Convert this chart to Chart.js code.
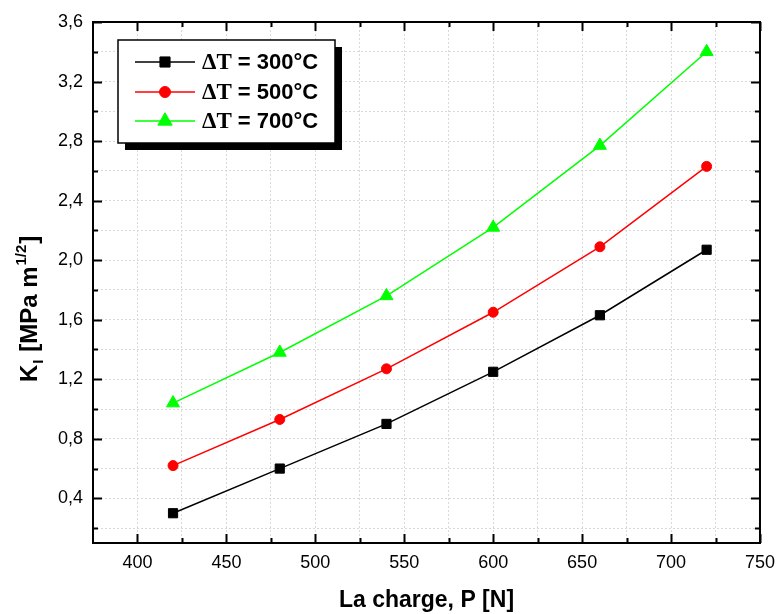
<!DOCTYPE html>
<html>
<head>
<meta charset="utf-8">
<script src="https://cdn.jsdelivr.net/npm/chart.js@4.4.1/dist/chart.umd.min.js"></script>
<style>
  html, body { margin: 0; padding: 0; background: #ffffff; }
  #wrap { width: 784px; height: 614px; }
</style>
</head>
<body>
<div id="wrap"><canvas id="c" width="784" height="614"></canvas></div>
<script>
// Load P [N] and stress intensity factor K_I [MPa m^1/2] for three temperature differences
const loads = [420, 480, 540, 600, 660, 720];
const k300 = [0.30, 0.60, 0.90, 1.25, 1.63, 2.07];
const k500 = [0.62, 0.93, 1.27, 1.65, 2.09, 2.63];
const k700 = [1.04, 1.38, 1.76, 2.22, 2.77, 3.40];
const seriesLabels = ['ΔT = 300°C', 'ΔT = 500°C', 'ΔT = 700°C'];

// Axis tick positions (major + minor)
const xTickValues = [400, 425, 450, 475, 500, 525, 550, 575, 600, 625, 650, 675, 700, 725, 750];
const yTickValues = [0.2, 0.4, 0.6, 0.8, 1.0, 1.2, 1.4, 1.6, 1.8, 2.0, 2.2, 2.4, 2.6, 2.8, 3.0, 3.2, 3.4, 3.6];

const SANS = "'Liberation Sans', Arial, sans-serif";
const SERIF = "'Liberation Serif', 'Times New Roman', serif";

const isMajorX = v => Math.round(v) % 50 === 0;
const isMajorY = v => Math.round(v * 10) % 4 === 0;

const toPoints = ys => loads.map((x, i) => ({ x: x, y: ys[i] }));

const seriesStyles = [
  { color: '#000000', pointStyle: 'rect', radius: 6.5 },
  { color: '#ff0000', pointStyle: 'circle', radius: 5 },
  { color: '#00ff00', pointStyle: 'triangle', radius: 7.5 }
];

const datasets = [k300, k500, k700].map((ys, i) => ({
  label: seriesLabels[i],
  data: toPoints(ys),
  borderColor: seriesStyles[i].color,
  backgroundColor: seriesStyles[i].color,
  borderWidth: 1.5,
  pointStyle: seriesStyles[i].pointStyle,
  pointRadius: seriesStyles[i].radius,
  pointBorderWidth: 1,
  pointBackgroundColor: seriesStyles[i].color,
  pointBorderColor: seriesStyles[i].color,
  tension: 0,
  fill: false
}));

// Boxed frame with inward tick marks on all four sides
const framePlugin = {
  id: 'frame',
  afterDatasetsDraw(chart) {
    const { ctx, chartArea: a, scales } = chart;
    ctx.save();
    ctx.strokeStyle = '#000';
    ctx.lineWidth = 2;
    ctx.lineCap = 'butt';
    ctx.beginPath();
    xTickValues.forEach(v => {
      const px = Math.round(scales.x.getPixelForValue(v)) + 0.5;
      const len = isMajorX(v) ? 9 : 5;
      ctx.moveTo(px, a.bottom); ctx.lineTo(px, a.bottom - len);
      ctx.moveTo(px, a.top); ctx.lineTo(px, a.top + len);
    });
    yTickValues.forEach(v => {
      const py = Math.round(scales.y.getPixelForValue(v)) + 0.5;
      const len = isMajorY(v) ? 9 : 5;
      ctx.moveTo(a.left, py); ctx.lineTo(a.left + len, py);
      ctx.moveTo(a.right, py); ctx.lineTo(a.right - len, py);
    });
    ctx.stroke();
    ctx.strokeRect(a.left, a.top, a.right - a.left, a.bottom - a.top);
    ctx.restore();
  }
};

function drawMarker(ctx, style, x, y, scale) {
  const r = style.radius * (scale || 1);
  ctx.fillStyle = style.color;
  ctx.strokeStyle = style.color;
  ctx.lineWidth = 1;
  if (Chart.helpers && Chart.helpers.drawPoint) {
    Chart.helpers.drawPoint(ctx, { pointStyle: style.pointStyle, rotation: 0, radius: r, borderWidth: 1 }, x, y);
    return;
  }
  ctx.beginPath();
  if (style.pointStyle === 'rect') {
    const s = Math.SQRT1_2 * r;
    ctx.rect(x - s, y - s, 2 * s, 2 * s);
  } else if (style.pointStyle === 'circle') {
    ctx.arc(x, y, r, 0, Math.PI * 2);
  } else {
    ctx.moveTo(x, y - r);
    ctx.lineTo(x + r * Math.sin(2 * Math.PI / 3), y - r * Math.cos(2 * Math.PI / 3));
    ctx.lineTo(x + r * Math.sin(4 * Math.PI / 3), y - r * Math.cos(4 * Math.PI / 3));
    ctx.closePath();
  }
  ctx.fill();
  ctx.stroke();
}

// Legend box with drop shadow, and the rotated y-axis title with sub/superscripts
const annotationsPlugin = {
  id: 'annotations',
  afterDraw(chart) {
    const ctx = chart.ctx;
    ctx.save();

    // legend
    const bx = 118, by = 40, bw = 217, bh = 103, sh = 7;
    ctx.fillStyle = '#000';
    ctx.fillRect(bx + sh, by + sh, bw, bh);
    ctx.fillStyle = '#fff';
    ctx.fillRect(bx, by, bw, bh);
    ctx.strokeStyle = '#000';
    ctx.lineWidth = 1.5;
    ctx.strokeRect(bx, by, bw, bh);

    const rows = [62, 92, 121];
    chart.data.datasets.forEach((ds, i) => {
      const y = rows[i];
      const st = seriesStyles[i];
      ctx.strokeStyle = st.color;
      ctx.lineWidth = 1.5;
      ctx.beginPath();
      ctx.moveTo(135, y); ctx.lineTo(195, y);
      ctx.stroke();
      drawMarker(ctx, st, 165, y, 1.1);

      const parts = ds.label.split(' = ');
      ctx.fillStyle = '#000';
      ctx.textBaseline = 'middle';
      ctx.textAlign = 'left';
      ctx.font = 'bold 23px ' + SERIF;
      let x = 202;
      ctx.fillText(parts[0], x, y + 1);
      x += ctx.measureText(parts[0]).width;
      ctx.font = 'bold 22px ' + SANS;
      ctx.fillText(' = ' + parts[1], x, y + 1);
    });

    // y-axis title: K_I [MPa m^1/2]
    ctx.translate(37, 382);
    ctx.rotate(-Math.PI / 2);
    ctx.fillStyle = '#000';
    ctx.textBaseline = 'alphabetic';
    ctx.textAlign = 'left';
    const big = 'bold 24px ' + SANS;
    const small = 'bold 15px ' + SANS;
    let tx = 0;
    const put = (txt, font, dy, gap) => {
      ctx.font = font;
      ctx.fillText(txt, tx, dy);
      tx += ctx.measureText(txt).width + (gap || 0);
    };
    put('K', big, 0, 1);
    put('I', small, 6, 1);
    put(' [MPa m', big, 0, 1);
    put('1/2', small, -11, 1);
    put(']', big, 0);

    ctx.restore();
  }
};

new Chart(document.getElementById('c'), {
  type: 'line',
  data: { datasets: datasets },
  options: {
    responsive: false,
    animation: false,
    devicePixelRatio: 1,
    layout: { padding: { left: 0, right: 18, top: 22, bottom: 0 } },
    plugins: {
      legend: { display: false },
      tooltip: { enabled: false },
      title: { display: false }
    },
    scales: {
      x: {
        type: 'linear',
        min: 375,
        max: 750,
        afterBuildTicks: s => { s.ticks = xTickValues.map(v => ({ value: v })); },
        afterFit: s => { s.height = 71; },
        ticks: {
          autoSkip: false,
          maxRotation: 0,
          padding: 9,
          color: '#000',
          font: { family: SANS, size: 18 },
          callback: v => (isMajorX(v) ? String(v) : '')
        },
        grid: { color: '#d9d9d9', lineWidth: 1, drawTicks: false },
        border: { display: false, dash: [2, 2] },
        title: {
          display: true,
          text: 'La charge, P [N]',
          color: '#000',
          font: { family: SANS, size: 23, weight: 'bold' },
          padding: { top: 0, bottom: 0 }
        }
      },
      y: {
        type: 'linear',
        min: 0.1,
        max: 3.6,
        afterBuildTicks: s => { s.ticks = yTickValues.map(v => ({ value: v })); },
        afterFit: s => { s.width = 93; },
        ticks: {
          autoSkip: false,
          padding: 10,
          color: '#000',
          font: { family: SANS, size: 18 },
          callback: v => (isMajorY(v) ? v.toFixed(1).replace('.', ',') : '')
        },
        grid: { color: '#d9d9d9', lineWidth: 1, drawTicks: false },
        border: { display: false, dash: [2, 2] },
        title: { display: false }
      }
    }
  },
  plugins: [framePlugin, annotationsPlugin]
});
</script>
</body>
</html>
